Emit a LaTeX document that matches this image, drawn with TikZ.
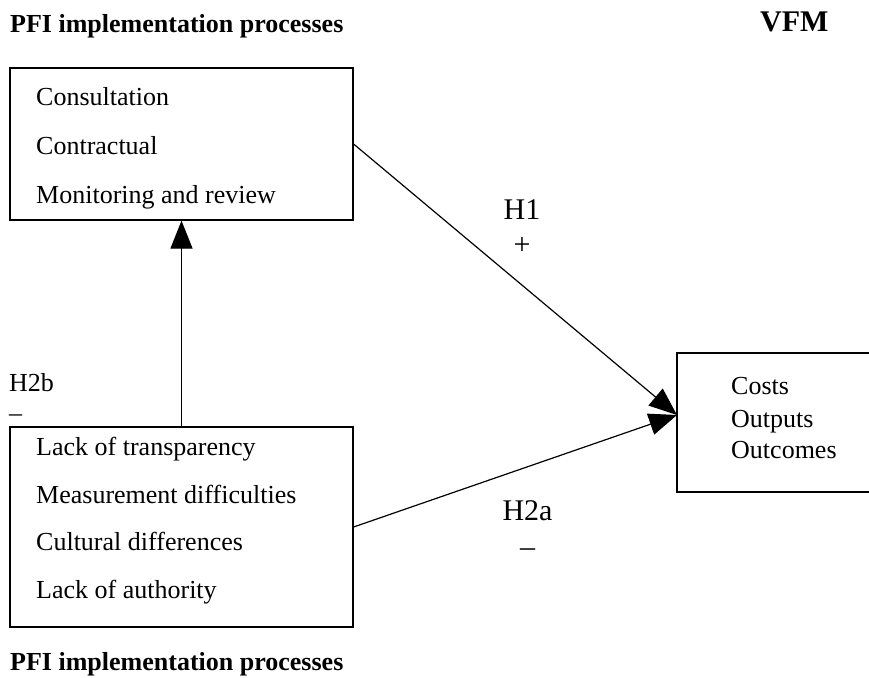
\documentclass[tikz,border=0pt]{standalone}
\usepackage{fontspec}
\setmainfont{Liberation Serif}
\usetikzlibrary{arrows.meta}
\newcommand{\boxfont}{\fontsize{26}{30}\selectfont}
\newcommand{\hypfont}{\fontsize{30}{34}\selectfont}

\begin{document}
\begin{tikzpicture}[x=1pt,y=-1pt,
        box/.style={draw, line width=1.2pt, inner sep=0pt},
        item/.style={anchor=base west, inner sep=0pt, font=\boxfont},
        hyp/.style={anchor=base, inner sep=0pt, font=\hypfont},
        head/.style={anchor=base west, inner sep=0pt, font=\boxfont\bfseries},
        link/.style={line width=1.2pt, -{Triangle[length=28pt,width=22pt]}}]
            %\draw[help lines] (0,0) grid (869,677);
            \useasboundingbox (0,0) rectangle (869,677);
            \node[head] (titletop) at (10,33) {PFI implementation processes};
            \node[head, font=\hypfont\bfseries] (vfm) at (760,32) {VFM};
            \node[head] (titlebot) at (10,670) {PFI implementation processes};
            \node[box, minimum width=343pt, minimum height=152pt] (upper) at (181.5,144) {};
            \node[box, minimum width=343pt, minimum height=200pt] (lower) at (181.5,527) {};
            \node[box, minimum width=205pt, minimum height=139pt] (value) at (779.5,422.5) {};
            \node[item] (u1) at (36,105) {Consultation};
            \node[item] (u2) at (36,154) {Contractual};
            \node[item] (u3) at (36,203) {Monitoring and review};
            \node[item] (l1) at (36,455) {Lack of transparency};
            \node[item] (l2) at (36,503) {Measurement difficulties};
            \node[item] (l3) at (36,550) {Cultural differences};
            \node[item] (l4) at (36,598) {Lack of authority};
            \node[item] (v1) at (731,394) {Costs};
            \node[item] (v2) at (731,427) {Outputs};
            \node[item] (v3) at (731,458) {Outcomes};
            \coordinate (tip) at (677,415);
            \draw[link] (upper.east) -- (tip);
            \draw[link] (lower.east) -- (tip);
            \draw[link] (lower.north) -- (upper.south);
            \node[hyp] (h1) at (522,219) {H1};
            \node[hyp] (h1sign) at (522,254) {+};
            \node[hyp] (h2a) at (527.5,520) {H2a};
            \node[hyp] (h2asign) at (527.5,556) {–};
            \node[item] (h2b) at (9,391) {H2b};
            \node[item] (h2bsign) at (9,421) {–};
        \end{tikzpicture}
\end{document}
